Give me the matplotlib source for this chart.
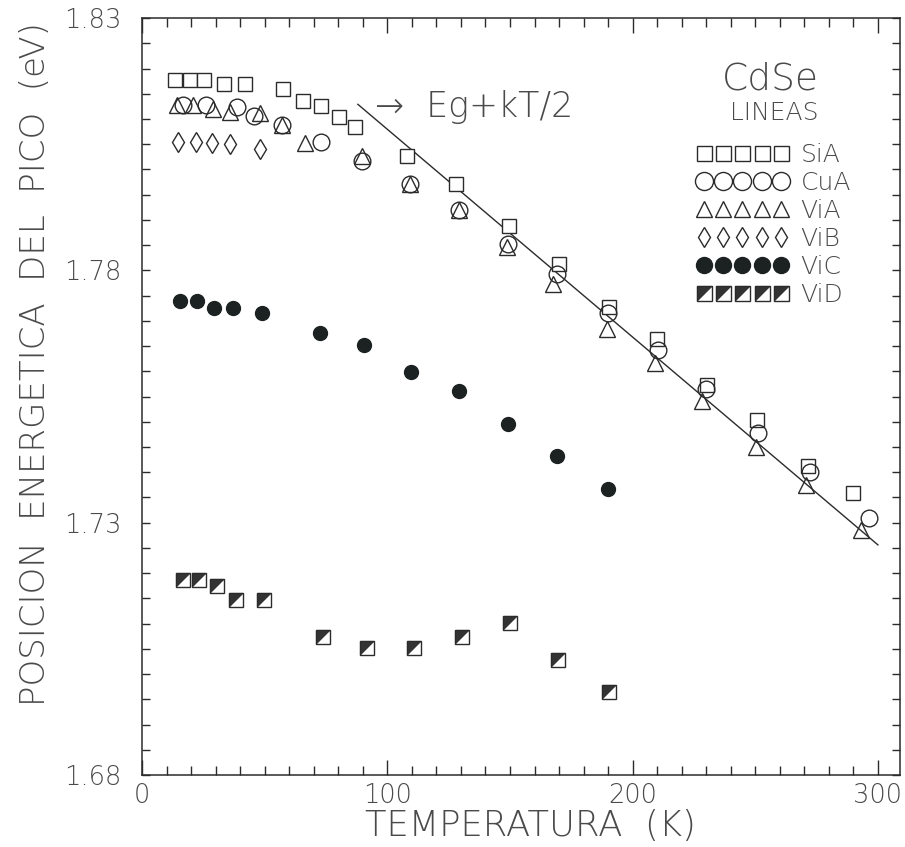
import matplotlib
matplotlib.use("Agg")
import matplotlib.pyplot as plt
from matplotlib.lines import Line2D
from matplotlib.legend_handler import HandlerTuple
from matplotlib.ticker import MultipleLocator

# temperatures (K) and peak energies (eV) for each line
T_sia = [13.5, 19.6, 25.3, 33.6, 42.0, 57.3, 65.8, 72.9, 80.5, 86.9, 108.0, 127.8,
         149.8, 169.9, 190.3, 210.0, 230.5, 250.9, 271.3, 289.9]
E_sia = [1.8177, 1.8177, 1.8177, 1.8170, 1.8170, 1.8159, 1.8135, 1.8125, 1.8103, 1.8085,
         1.8027, 1.7971, 1.7888, 1.7812, 1.7728, 1.7663, 1.7572, 1.7504, 1.7413, 1.7359]

T_cua = [16.9, 26.1, 38.9, 45.7, 57.0, 72.9, 89.7, 109.4, 129.1, 149.3, 169.3, 189.9,
         210.3, 230.1, 251.1, 272.4, 296.5]
E_cua = [1.8127, 1.8127, 1.8123, 1.8106, 1.8088, 1.8055, 1.8016, 1.7971, 1.7920, 1.7852,
         1.7792, 1.7716, 1.7643, 1.7564, 1.7478, 1.7400, 1.7309]

T_via = [14.2, 20.9, 29.1, 35.9, 48.2, 57.0, 66.5, 89.7, 109.4, 129.1, 148.8, 167.6,
         189.4, 209.0, 228.4, 250.2, 270.6, 293.0]
E_via = [1.8127, 1.8127, 1.8120, 1.8113, 1.8111, 1.8088, 1.8053, 1.8027, 1.7971, 1.7920,
         1.7846, 1.7772, 1.7683, 1.7617, 1.7541, 1.7449, 1.7375, 1.7285]

T_vib = [14.8, 21.9, 28.7, 35.9, 48.2]
E_vib = [1.8055, 1.8055, 1.8052, 1.8050, 1.8040]

T_vic = [15.5, 22.3, 29.4, 37.3, 48.9, 72.7, 90.7, 109.8, 129.4, 149.3, 169.3, 189.9]
E_vic = [1.7739, 1.7739, 1.7726, 1.7726, 1.7716, 1.7676, 1.7652, 1.7599, 1.7561, 1.7496,
         1.7432, 1.7367]

T_vid = [16.6, 23.4, 30.5, 38.4, 49.9, 73.8, 91.7, 110.7, 130.5, 150.2, 169.5, 190.3]
E_vid = [1.7186, 1.7186, 1.7174, 1.7147, 1.7147, 1.7073, 1.7051, 1.7051, 1.7074, 1.7102,
         1.7027, 1.6965]

# Eg + kT/2 fit line end points
T_fit = [88, 300]
E_fit = [1.8129, 1.7256]

labels = ["SiA", "CuA", "ViA", "ViB", "ViC", "ViD"]
y_ticks = [1.68, 1.73, 1.78, 1.83]

ink = "#2b2b2b"
txt = "#4a4a4a"
dark = "#1c2222"
half = [(-1, -1), (-1, 1), (1, 1)]  # upper-left half of a square
plt.rcParams["font.family"] = ["DejaVu Sans"]
plt.rcParams["font.weight"] = "light"
plt.rcParams["axes.labelweight"] = "light"

fig = plt.figure(figsize=(9.05, 8.47), dpi=100)
ax = fig.add_axes([0.1569, 0.085, 0.8376, 0.8937])

ax.plot(T_fit, E_fit, color=ink, lw=1.0, zorder=1)

hollow = dict(ls="none", mfc="white", mec=ink, mew=1.0, zorder=3)
ax.plot(T_sia, E_sia, marker="s", ms=10, **hollow)
ax.plot(T_cua, E_cua, marker="o", ms=12, ls="none", mfc="none", mec=ink, mew=1.0, zorder=4)
ax.plot(T_via, E_via, marker="^", ms=11, ls="none", mfc="none", mec=ink, mew=1.0, zorder=5)
ax.plot(T_vib, E_vib, marker="d", ms=10.2, **hollow)
ax.plot(T_vic, E_vic, marker="o", ms=10, ls="none", mfc=dark, mec=dark, zorder=3)
ax.plot(T_vid, E_vid, marker="s", ms=10.5, **hollow)
ax.plot(T_vid, E_vid, marker=half, ms=10.5, ls="none", mfc="#333333", mec=ink, mew=0.8, zorder=4)

ax.set_xlim(0, 309)
ax.set_ylim(1.68, 1.83)
ax.xaxis.set_major_locator(MultipleLocator(100))
ax.xaxis.set_minor_locator(MultipleLocator(10))
ax.set_yticks(y_ticks)
ax.yaxis.set_minor_locator(MultipleLocator(0.005))
ax.yaxis.set_major_formatter(plt.FormatStrFormatter("%.2f"))

ax.tick_params(which="both", direction="in", top=True, right=True, color=ink, width=1.0)
ax.tick_params(axis="x", which="major", length=11, pad=6, labelsize=18.5, labelcolor=txt)
ax.tick_params(axis="x", which="minor", length=6.5)
ax.tick_params(axis="y", which="both", length=6, labelsize=18.5, labelcolor=txt)
ax.tick_params(axis="y", which="major", pad=15)
for s in ax.spines.values():
    s.set_color(ink)
    s.set_linewidth(1.1)

ax.set_xlabel("TEMPERATURA  (K)", fontsize=25.5, color=txt)
ax.set_ylabel("POSICION  ENERGETICA  DEL  PICO  (eV)", fontsize=24.5, color=txt)
ax.xaxis.set_label_coords(0.513, -0.045, transform=ax.transAxes)
ax.yaxis.set_label_coords(-0.141, 0.543, transform=ax.transAxes)
ax.xaxis.label.set_va("top")
ax.yaxis.label.set_va("center")

ax.text(95, 1.8123, "\u2192  Eg+kT/2", fontsize=25, color=txt, va="center", ha="left")
ax.text(0.829, 0.919, "CdSe", transform=ax.transAxes, fontsize=27, color=txt,
        ha="center", va="center")
ax.text(0.834, 0.875, "LINEAS", transform=ax.transAxes, fontsize=18, color=txt,
        ha="center", va="center")

# legend keys are drawn a bit larger than the data marks
open_key = dict(ls="none", mfc="white", mec=ink, mew=1.0)
handles = [
    Line2D([], [], marker="s", ms=10.8, **open_key),
    Line2D([], [], marker="o", ms=13, **open_key),
    Line2D([], [], marker="^", ms=11.5, **open_key),
    Line2D([], [], marker="d", ms=10.5, **open_key),
    Line2D([], [], marker="o", ms=11.5, ls="none", mfc=dark, mec=dark),
    (Line2D([], [], marker="s", ms=10.8, **open_key),
     Line2D([], [], marker=half, ms=10.8, ls="none", mfc="#333333", mec=ink, mew=0.8)),
]
leg = ax.legend(handles, labels, numpoints=5, loc="upper left",
                bbox_to_anchor=(0.732, 0.835), frameon=False, fontsize=18,
                handlelength=3.65, handletextpad=0.5, labelspacing=0.16,
                borderpad=0, borderaxespad=0,
                handler_map={tuple: HandlerTuple(ndivide=1, pad=0)})
for t in leg.get_texts():
    t.set_color(txt)

fig.savefig("out.png", dpi=100)
